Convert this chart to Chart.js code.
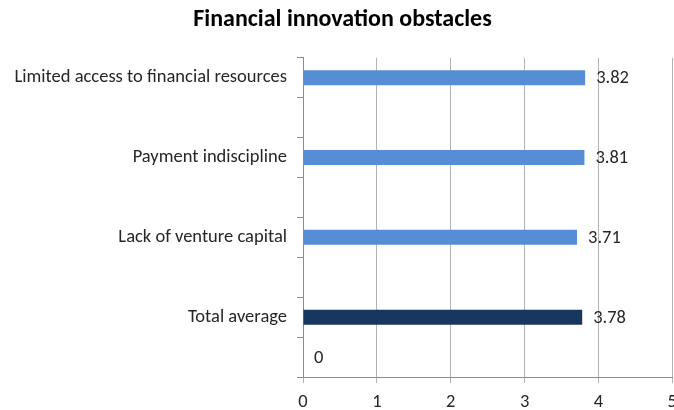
<!DOCTYPE html>
<html><head><meta charset="utf-8">
<script src="https://cdn.jsdelivr.net/npm/chart.js@4/dist/chart.umd.min.js"></script>
<style>html,body{margin:0;padding:0;overflow:hidden;background:#fff}#wrap{width:685px;height:410px}</style>
</head><body><div id="wrap"><canvas id="c"></canvas></div>
<script>
const categories = ['Limited access to financial resources', '', 'Payment indiscipline', '', 'Lack of venture capital', '', 'Total average', ''];
const values = [3.82, null, 3.81, null, 3.71, null, 3.78, 0];
const barColors = ['#558ED5', '#558ED5', '#558ED5', '#558ED5', '#558ED5', '#558ED5', '#17375E', '#17375E'];
const xTicks = [0, 1, 2, 3, 4, 5];

const FONT = "Carlito, Lato, 'Liberation Sans', sans-serif";
const FS = 18.5;

const valueLabels = {
  id: 'valueLabels',
  afterDatasetsDraw(chart) {
    const ctx = chart.ctx;
    const meta = chart.getDatasetMeta(0);
    ctx.save();
    ctx.font = FS + 'px ' + FONT;
    ctx.fillStyle = '#262626';
    ctx.textBaseline = 'middle';
    ctx.textAlign = 'left';
    meta.data.forEach((bar, i) => {
      const v = values[i];
      if (v === null || v === undefined) return;
      ctx.fillText(String(v), bar.x + 11, bar.y + 1);
    });
    ctx.restore();
  }
};

new Chart(document.getElementById('c'), {
  type: 'bar',
  data: {
    labels: categories,
    datasets: [{
      data: values,
      backgroundColor: barColors,
      borderWidth: 0,
      categoryPercentage: 1,
      barPercentage: 0.375
    }]
  },
  options: {
    indexAxis: 'y',
    responsive: true,
    maintainAspectRatio: false,
    animation: false,
    layout: { padding: { left: 0, right: 0, top: 0, bottom: 0 } },
    plugins: {
      legend: { display: false },
      tooltip: { enabled: false },
      title: {
        display: true,
        text: 'Financial innovation obstacles',
        color: '#000',
        font: { family: FONT, size: 24, weight: 'bold' },
        padding: { top: 6, bottom: 23 }
      }
    },
    scales: {
      x: {
        min: 0, max: 5,
        afterBuildTicks(scale) { scale.ticks = xTicks.map(v => ({ value: v })); },
        afterFit(scale) { scale.height = 33; },
        ticks: { color: '#262626', font: { family: FONT, size: FS }, padding: 8 },
        grid: { color: '#B3B3B3', tickLength: 6, lineWidth: 1 },
        border: { color: '#8C8C8C' }
      },
      y: {
        afterFit(scale) { scale.width = 303; },
        ticks: { color: '#262626', font: { family: FONT, size: FS }, padding: 10, autoSkip: false },
        grid: { drawOnChartArea: false, drawTicks: true, tickLength: 6, color: '#8C8C8C' },
        border: { color: '#8C8C8C' }
      }
    }
  },
  plugins: [valueLabels]
});
</script></body></html>
